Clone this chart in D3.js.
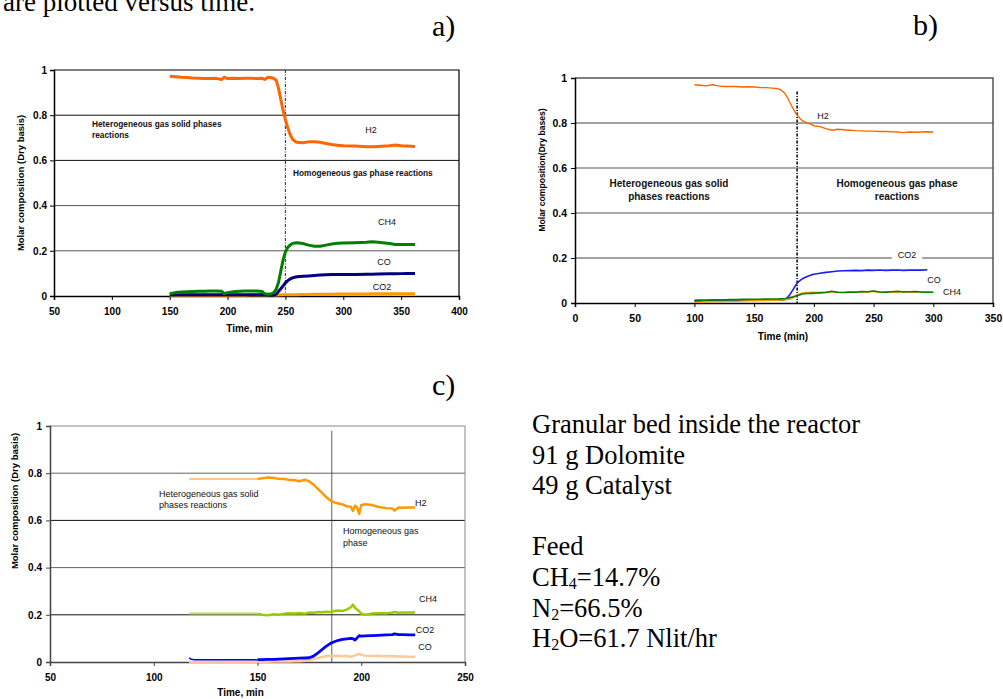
<!DOCTYPE html>
<html>
<head>
<meta charset="utf-8">
<script src="https://cdn.jsdelivr.net/npm/d3@7"></script>
<style>
  body { margin: 0; background: #fff; }
  svg { display: block; }
  text { font-family: "Liberation Sans", Arial, sans-serif; }
  text.serif { font-family: "Liberation Serif", "Times New Roman", serif; }
</style>
</head>
<body>
<div id="chart"></div>
<script>
// ---- panel a) data ----
var aTime = [150,155,160,165,170,175,180,185,190,195,197,200,205,210,215,220,225,230,232,235,238,240,242,244,246,248,250,252,254,256,258,260,265,270,275,280,285,290,295,300,310,320,325,330,340,345,350,355,362];
var aH2  = [.972,.970,.968,.967,.965,.964,.962,.962,.963,.958,.968,.962,.964,.962,.963,.963,.962,.963,.958,.968,.966,.962,.955,.920,.870,.820,.780,.745,.715,.695,.685,.680,.678,.682,.683,.680,.675,.670,.667,.665,.664,.660,.660,.662,.665,.668,.665,.664,.662];
var aCH4 = [.010,.015,.018,.019,.020,.021,.021,.022,.022,.021,.010,.015,.019,.021,.022,.022,.022,.020,.010,.008,.010,.015,.030,.060,.110,.160,.195,.215,.225,.232,.235,.236,.232,.225,.220,.220,.225,.230,.233,.235,.236,.238,.240,.238,.232,.228,.228,.228,.228];
var aCO  = [.004,.004,.005,.005,.005,.005,.005,.005,.006,.006,.006,.006,.006,.006,.006,.006,.006,.006,.005,.004,.003,.004,.008,.020,.032,.045,.058,.068,.075,.080,.083,.085,.087,.089,.091,.093,.094,.095,.095,.095,.095,.096,.096,.097,.098,.098,.099,.100,.100];
var aCO2 = [.002,.002,.003,.003,.003,.003,.003,.003,.003,.003,.003,.003,.003,.003,.003,.004,.004,.004,.004,.004,.004,.004,.004,.004,.005,.005,.005,.005,.006,.006,.006,.006,.007,.007,.008,.008,.008,.008,.009,.009,.009,.009,.010,.010,.010,.010,.010,.010,.010];

// ---- panel b) data ----
var bTime = [100,105,110,115,120,125,130,135,140,145,150,155,160,165,170,172,174,176,178,180,182,184,186,188,190,192,194,196,198,200,205,210,215,220,225,230,235,240,245,250,255,260,265,270,275,280,285,290,295,300];
var bH2  = [.970,.968,.965,.970,.965,.962,.963,.962,.960,.961,.960,.958,.957,.955,.952,.948,.940,.930,.912,.890,.870,.850,.835,.822,.812,.806,.801,.797,.793,.788,.784,.775,.768,.772,.770,.768,.766,.765,.764,.764,.762,.763,.761,.760,.757,.760,.759,.760,.761,.760];
var bCO2 = [.012,.013,.012,.013,.012,.012,.013,.012,.012,.013,.012,.012,.013,.012,.013,.013,.013,.016,.024,.038,.055,.072,.088,.098,.106,.112,.117,.121,.125,.128,.132,.136,.139,.142,.143,.144,.145,.144,.146,.145,.147,.145,.146,.147,.145,.146,.147,.146,.148,null];
var bCO  = [.003,.004,.005,.006,.006,.007,.008,.008,.009,.010,.010,.011,.011,.012,.012,.013,.014,.015,.016,.018,.022,.028,.034,.040,.043,.045,.046,.047,.048,.048,.047,.049,.050,.048,.047,.049,.048,.050,.049,.052,.048,.050,.049,.047,.051,.049,.048,.050,.049,.048];
var bCH4 = [.008,.010,.012,.013,.014,.014,.015,.015,.016,.016,.017,.017,.018,.018,.018,.019,.019,.020,.022,.024,.027,.030,.033,.036,.040,.041,.042,.042,.043,.043,.045,.047,.052,.048,.047,.049,.048,.051,.050,.053,.049,.048,.050,.052,.049,.050,.051,.049,.048,.048];

// ---- panel c) data ----
var cTime = [117,118,120,150,152,155,158,160,163,165,168,170,173,175,177,179,181,183,185,187,189,191,193,195,196,197,198,199,200,202,205,208,210,212,215,216,218,220,223,226];
var cH2  = [.775,.775,.775,.775,.778,.782,.780,.776,.775,.772,.770,.766,.772,.765,.752,.735,.718,.700,.685,.676,.672,.668,.660,.658,.640,.662,.655,.628,.665,.668,.665,.658,.655,.652,.650,.642,.655,.654,.655,.655];
var cCH4 = [.205,.205,.205,.205,.200,.198,.202,.200,.205,.207,.206,.208,.205,.210,.209,.212,.211,.213,.212,.216,.218,.216,.222,.232,.243,.230,.222,.215,.205,.200,.205,.207,.208,.206,.210,.212,.209,.210,.210,.210];
var cCO2 = [.018,.012,.010,.010,.010,.011,.011,.012,.013,.014,.015,.016,.017,.018,.025,.038,.052,.066,.078,.086,.092,.096,.098,.100,.099,.093,.102,.112,.110,.111,.112,.113,.114,.115,.116,.119,.116,.116,.115,.115];
var cCO  = [.000,.000,.000,.001,.001,.001,.002,.002,.002,.002,.003,.003,.005,.008,.012,.017,.021,.024,.026,.025,.026,.024,.026,.022,.024,.028,.032,.034,.030,.027,.025,.026,.024,.025,.024,.025,.023,.023,.022,.022];

var yTicks = [0, 0.2, 0.4, 0.6, 0.8, 1];

var svgWidth = 1003;
var svgHeight = 699;

var svg = d3.select("#chart")
  .append("svg")
  .attr("width", svgWidth)
  .attr("height", svgHeight);

function drawPanel(p) {
  var x = d3.scaleLinear().domain(p.xDomain).range([p.left, p.right]);
  var y = d3.scaleLinear().domain([0, 1]).range([p.bottom, p.top]);
  var g = svg.append("g");

  // gridlines
  g.selectAll(".grid")
    .data([0.2, 0.4, 0.6, 0.8])
    .enter()
    .append("line")
    .attr("x1", p.left).attr("x2", p.right)
    .attr("y1", d => y(d)).attr("y2", d => y(d))
    .attr("stroke", (d, i) => p.gridColors[i])
    .attr("stroke-width", 1);

  // frame (top + right)
  g.append("path")
    .attr("d", `M${p.left},${p.top}H${p.right}V${p.bottom}`)
    .attr("fill", "none")
    .attr("stroke", p.frameColor)
    .attr("stroke-width", p.frameWidth);

  // axes
  var xAxis = d3.axisBottom(x).tickValues(p.xTicks).tickSize(4).tickPadding(8).tickFormat(d3.format("d"));
  var yAxis = d3.axisLeft(y).tickValues(yTicks).tickSize(4).tickPadding(p.yPad).tickFormat(d3.format("~g"));

  var gx = g.append("g").attr("transform", `translate(0,${p.bottom})`).call(xAxis);
  var gy = g.append("g").attr("transform", `translate(${p.left},0)`).call(yAxis);
  [gx, gy].forEach(function(ax) {
    ax.select(".domain").attr("stroke", p.axisColor).attr("stroke-width", 1.5);
    ax.selectAll(".tick line").attr("stroke", p.axisColor);
    ax.selectAll("text")
      .attr("font-family", "'Liberation Sans', Arial, sans-serif")
      .attr("font-size", p.tickSize)
      .attr("font-weight", "bold")
      .attr("fill", "#000");
  });

  // axis titles
  g.append("text")
    .attr("x", (p.left + p.right) / 2 + p.xTitleShift)
    .attr("y", p.xTitleY)
    .attr("text-anchor", "middle")
    .attr("font-size", 10)
    .attr("font-weight", "bold")
    .text(p.xTitle);

  g.append("text")
    .attr("transform", `translate(${p.yTitleX},${p.yTitleY}) rotate(-90)`)
    .attr("text-anchor", "middle")
    .attr("font-size", p.yTitleSize)
    .attr("font-weight", "bold")
    .text(p.yTitle);

  // phase boundary line
  g.append("line")
    .attr("x1", x(p.vline.t)).attr("x2", x(p.vline.t))
    .attr("y1", y(p.vline.from)).attr("y2", y(0))
    .attr("stroke", p.vline.color)
    .attr("stroke-width", p.vline.width)
    .attr("stroke-dasharray", p.vline.dash);

  // series
  p.series.forEach(function(s) {
    var pts = p.time.map((t, i) => ({ t: t, v: s.values[i] }));
    var line = d3.line()
      .defined(d => d.v != null)
      .x(d => x(d.t))
      .y(d => y(d.v));
    if (s.gapColor) {
      g.append("path")
        .datum(pts.filter(d => d.t <= p.gapEnd))
        .attr("d", line)
        .attr("fill", "none")
        .attr("stroke", s.gapColor)
        .attr("stroke-width", s.gapWidth || s.width);
      pts = pts.filter(d => d.t >= p.gapEnd);
    }
    g.append("path")
      .datum(pts)
      .attr("d", line)
      .attr("fill", "none")
      .attr("stroke", s.color)
      .attr("stroke-width", s.width)
      .attr("stroke-linejoin", "round");
  });

  // labels
  p.labels.forEach(function(l) {
    var lines = l.text.split("\n");
    var lh = l.lh || 11;
    var t = g.append("text")
      .attr("font-size", l.size)
      .attr("font-weight", l.bold ? "bold" : "normal")
      .attr("text-anchor", l.anchor || "start")
      .attr("fill", "#111");
    lines.forEach(function(s, i) {
      t.append("tspan").attr("x", l.x).attr("y", l.y + i * lh).text(s);
    });
    if (l.bg) {
      var bb = t.node().getBBox();
      g.insert("rect", function() { return t.node(); })
        .attr("x", bb.x - 6).attr("y", bb.y)
        .attr("width", bb.width + 12).attr("height", bb.height)
        .attr("fill", "#fff");
    }
  });
}

// panel a)
drawPanel({
  left: 54, right: 459, top: 70, bottom: 296,
  xDomain: [50, 400], xTicks: [50,100,150,200,250,300,350,400],
  yPad: 3, tickSize: 10, gridColors: ["#555", "#555", "#111", "#111"],
  frameColor: "#000", frameWidth: 1.2, axisColor: "#000",
  xTitle: "Time, min", xTitleY: 332, xTitleShift: -7,
  yTitle: "Molar composition (Dry basis)", yTitleX: 24, yTitleY: 183, yTitleSize: 9.5,
  vline: { t: 250, from: 1, color: "#444", width: 1.2, dash: "3,1.5,1,1.5" },
  time: aTime,
  series: [
    { values: aCO2, color: "#FF9900", width: 3 },
    { values: aCO,  color: "#000080", width: 3 },
    { values: aCH4, color: "#008000", width: 3 },
    { values: aH2,  color: "#FF6600", width: 3 }
  ],
  labels: [
    { text: "Heterogeneous gas solid phases\nreactions", x: 92, y: 127, lh: 11, size: 8.3, bold: true },
    { text: "Homogeneous gas phase reactions", x: 293, y: 176, size: 8.3, bold: true },
    { text: "H2", x: 371, y: 133, size: 9, anchor: "middle" },
    { text: "CH4", x: 387, y: 225, size: 9, anchor: "middle" },
    { text: "CO", x: 384, y: 265, size: 9, anchor: "middle" },
    { text: "CO2", x: 382, y: 290, size: 9, anchor: "middle" }
  ]
});

// panel b)
drawPanel({
  left: 575, right: 993, top: 78, bottom: 303,
  xDomain: [0, 350], xTicks: [0,50,100,150,200,250,300,350],
  yPad: 4, tickSize: 10.5, gridColors: ["#444", "#555", "#555", "#444"],
  frameColor: "#555", frameWidth: 1.5, axisColor: "#000",
  xTitle: "Time (min)", xTitleY: 340, xTitleShift: -1,
  yTitle: "Molar composition(Dry bases)", yTitleX: 545, yTitleY: 170, yTitleSize: 8.6,
  vline: { t: 186, from: 0.94, color: "#111", width: 1.6, dash: "3,1.5,1,1.5" },
  time: bTime,
  series: [
    { values: bCO2, color: "#1a1aff", width: 1.6 },
    { values: bCO,  color: "#FF9900", width: 1.6 },
    { values: bCH4, color: "#008000", width: 1.6 },
    { values: bH2,  color: "#FF6600", width: 1.4 }
  ],
  labels: [
    { text: "Heterogeneous gas solid\nphases reactions", x: 669, y: 187, lh: 13, size: 10, bold: true, anchor: "middle" },
    { text: "Homogeneous gas phase\nreactions", x: 897, y: 187, lh: 13, size: 10, bold: true, anchor: "middle" },
    { text: "H2", x: 823, y: 119, size: 9, anchor: "middle", bg: true },
    { text: "CO2", x: 907, y: 258, size: 9, anchor: "middle", bg: true },
    { text: "CO", x: 934, y: 283, size: 9, anchor: "middle" },
    { text: "CH4", x: 952, y: 295, size: 9, anchor: "middle" }
  ]
});

// panel c)
drawPanel({
  left: 50, right: 465, top: 426, bottom: 662,
  xDomain: [50, 250], xTicks: [50,100,150,200,250],
  yPad: 4, tickSize: 10, gridColors: ["#111", "#666", "#111", "#666"],
  frameColor: "#888", frameWidth: 1, axisColor: "#444",
  xTitle: "Time, min", xTitleY: 696, xTitleShift: -17,
  yTitle: "Molar composition (Dry basis)", yTitleX: 18, yTitleY: 501, yTitleSize: 9.5,
  vline: { t: 185.8, from: 0.98, color: "#333", width: 0.8, dash: null },
  time: cTime, gapEnd: 150,
  series: [
    { values: cCO,  color: "#FFC896", width: 2.5 },
    { values: cCO2, color: "#0000FF", width: 2.8, gapColor: "#0000FF", gapWidth: 1.5 },
    { values: cCH4, color: "#99CC00", width: 2.5, gapColor: "#B8DC66", gapWidth: 2 },
    { values: cH2,  color: "#FF9900", width: 2.5, gapColor: "#FFC890", gapWidth: 2 }
  ],
  labels: [
    { text: "Heterogeneous gas solid\nphases reactions", x: 159, y: 497, lh: 11, size: 9 },
    { text: "Homogeneous gas\nphase", x: 343, y: 534, lh: 12, size: 9 },
    { text: "H2", x: 415, y: 506, size: 9 },
    { text: "CH4", x: 428, y: 602, size: 9, anchor: "middle" },
    { text: "CO2", x: 425, y: 633, size: 9, anchor: "middle" },
    { text: "CO", x: 425, y: 650, size: 9, anchor: "middle" }
  ]
});

// surrounding document text
svg.append("text").attr("class", "serif").attr("x", 3).attr("y", 11)
  .attr("font-size", 27).text("are plotted versus time.");
[["a)", 432, 36], ["b)", 913, 35], ["c)", 432, 395]].forEach(function(d) {
  svg.append("text").attr("class", "serif").attr("x", d[1]).attr("y", d[2])
    .attr("font-size", 30).text(d[0]);
});

var note = svg.append("text").attr("class", "serif").attr("font-size", 26.5).attr("fill", "#000");
var noteLines = [
  [["Granular bed inside the reactor"]],
  [["91 g Dolomite"]],
  [["49 g Catalyst"]],
  null,
  [["Feed"]],
  [["CH"], ["4", "sub"], ["=14.7%"]],
  [["N"], ["2", "sub"], ["=66.5%"]],
  [["H"], ["2", "sub"], ["O=61.7 Nlit/hr"]]
];
noteLines.forEach(function(parts, i) {
  if (!parts) return;
  var yy = 433 + i * 30.6;
  parts.forEach(function(pt, j) {
    var ts = note.append("tspan").text(pt[0]);
    if (j === 0) ts.attr("x", 532).attr("y", yy);
    else ts.attr("y", pt[1] === "sub" ? yy + 3 : yy);
    if (pt[1] === "sub") ts.attr("font-size", 16);
  });
});
</script>
</body>
</html>
